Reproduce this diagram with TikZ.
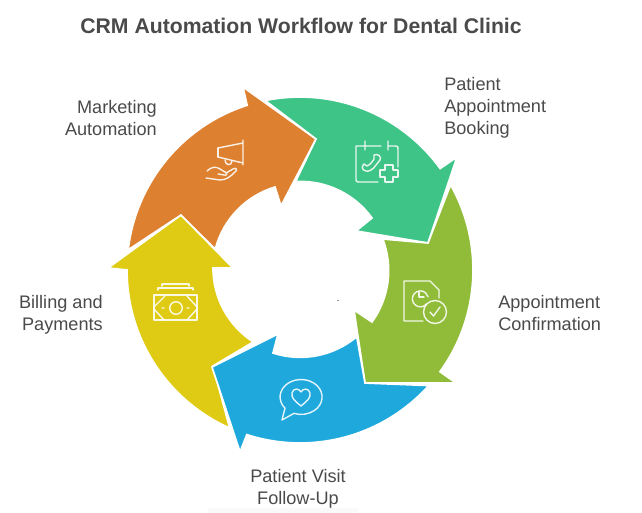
\documentclass[tikz,border=0pt]{standalone}
\usepackage{fontspec}
\setmainfont{Liberation Sans}
\definecolor{corange}{HTML}{DD8030}
\definecolor{cgreen}{HTML}{3EC487}
\definecolor{clime}{HTML}{90BC39}
\definecolor{cblue}{HTML}{1FA8DC}
\definecolor{cyellow}{HTML}{DFCB14}
\definecolor{ctext}{HTML}{4A4A4A}
\tikzset{
  seg/.style={draw=white,line width=1.3pt,line join=miter},
  lab/.style={text=ctext,inner sep=0pt,font=\fontsize{13.6}{16.5}\selectfont},
  ttl/.style={text=ctext,inner sep=0pt,font=\fontsize{15.9}{20}\selectfont\bfseries},
  ico/.style={draw=white,draw opacity=.88,line width=1.05pt,line cap=round,line join=round}
}
\begin{document}
\begin{tikzpicture}[x=.75pt,y=.75pt,yscale=-1]
\useasboundingbox (0,0) rectangle (642,513);
\fill[white] (0,0) rectangle (642,513);
% ring segments
\fill[cyellow,seg] ([shift={(300,270)}]114:173) arc[start angle=114,end angle=180,radius=129.75pt]
  -- (108,268) -- (181,215) -- (233,268) -- (213,268)
  arc[start angle=180,end angle=122.8,radius=66pt] -- (213,366) -- cycle;
\fill[corange,seg] ([shift={(300,270)}]186.7:173) arc[start angle=186.7,end angle=252.2,radius=129.75pt]
  -- (243,87) -- (316,139) -- (281,206) -- (275,187)
  arc[start angle=253.2,end angle=194.5,radius=66pt] -- (181,215) -- cycle;
\fill[cgreen,seg] ([shift={(300,270)}]258.4:173) arc[start angle=258.4,end angle=324.1,radius=129.75pt]
  -- (457,157) -- (428,243) -- (356,231) -- (372,218)
  arc[start angle=324.2,end angle=266.7,radius=66pt] -- (316,139) -- cycle;
\fill[clime,seg] ([shift={(300,270)}]-29.5:173) arc[start angle=-29.5,end angle=36,radius=129.75pt]
  -- (456,383) -- (365,383) -- (354,310) -- (372,322)
  arc[start angle=35.8,end angle=-21,radius=66pt] -- (428,243) -- cycle;
\fill[cblue,seg] ([shift={(300,270)}]41.9:173) arc[start angle=41.9,end angle=107.9,radius=129.75pt]
  -- (240,452) -- (212,367) -- (278,334) -- (273,353)
  arc[start angle=108,end angle=50,radius=66pt] -- (365,383) -- cycle;
% megaphone
\draw[ico] (218,148) -- (243,143) (243,163) -- (218,157) -- cycle (243,140) -- (243,165);
\draw[ico] (218,148) -- (218,157);
\draw[ico] (225,160) .. controls (225,166) and (232,166) .. (232,161);
\draw[ico] (207,171) .. controls (211,167) and (216,166) .. (220,169) -- (225,172)
  .. controls (228,173) and (227,176) .. (224,175) -- (218,174)
  (226,173) -- (233,169) .. controls (236,167) and (238,170) .. (235,172)
  .. controls (230,177) and (226,180) .. (220,180) -- (206,178);
% calendar
\draw[ico] (365,146) -- (356,146) .. controls (356,146) and (356,146) .. (356,148) -- (356,180) .. controls (356,181) and (357,182) .. (358,182) -- (378,182);
\draw[ico] (365,141) -- (365,150) (365,146) -- (381,146) (388,141) -- (388,150) (388,146) -- (396,146) .. controls (398,146) and (398,147) .. (398,149) -- (398,167);
\draw[ico] (374,155) .. controls (378,153) and (382,157) .. (380,160) -- (376,165) .. controls (373,170) and (368,172) .. (366,171)
 .. controls (361,170) and (362,166) .. (364,164) -- (367,166) .. controls (370,165) and (373,161) .. (374,159) -- cycle;
\draw[ico] (385,165) -- (393,165) -- (393,170) -- (398,170) -- (398,177) -- (393,177) -- (393,182) -- (385,182) -- (385,177) -- (380,177) -- (380,170) -- (385,170) -- cycle;
% document
\draw[ico] (423,321) -- (404,321) -- (404,281) -- (430,281) -- (439,290) -- (439,298);
\draw[ico] (426.5,304) arc[start angle=40,end angle=345,radius=6pt];
\draw[ico] (419,292) -- (419,297) -- (424,297);
\draw[ico] (435,312) circle[radius=8.6pt];
\draw[ico] (430,312) -- (433.5,316) -- (440,307);
% money
\draw[ico] (154,295) rectangle (197,320);
\draw[ico] (158,290) -- (158,288) -- (193,288) -- (193,290) (162,284) -- (189,284) -- (189,286) (162,284) -- (162,286);
\draw[ico] (176,308) circle[radius=4.7pt];
\draw[ico] (154,307) -- (165,296) (187,296) -- (197,307) (154,309) -- (164,320) (197,309) -- (187,320) (162,308) -- (164,308) (187,308) -- (189,308);
% bubble
\draw[ico] (285,408.2) arc[start angle=140,end angle=470,x radius=15.75pt,y radius=13.1pt] -- (282,420) -- cycle;
\draw[ico] (301,406) .. controls (295,401) and (291,398) .. (292,393) .. controls (293,388) and (299,388) .. (301,392)
 .. controls (303,388) and (309,388) .. (310,393) .. controls (311,398) and (307,401) .. (301,406) -- cycle;
% tiny mark
\fill[black!80] (338,300.5) circle[radius=.45pt];
% faint strip at the lower edge
\fill[black!2] (208,508) rectangle (358,513);
% texts
\node[ttl,anchor=center] (title) at (301,26) {CRM Automation Workflow for Dental Clinic};
\node[lab,anchor=east,align=right] (marketing) at (157,118) {Marketing\\Automation};
\node[lab,anchor=west,align=left] (booking) at (444,108) {Patient\\Appointment\\Booking};
\node[lab,anchor=west,align=left] (confirm) at (498,313) {Appointment\\Confirmation};
\node[lab,anchor=east,align=right] (billing) at (103,315) {Billing and\\Payments};
\node[lab,anchor=center,align=center] (visit) at (298,489) {Patient Visit\\Follow-Up};
\end{tikzpicture}
\end{document}
